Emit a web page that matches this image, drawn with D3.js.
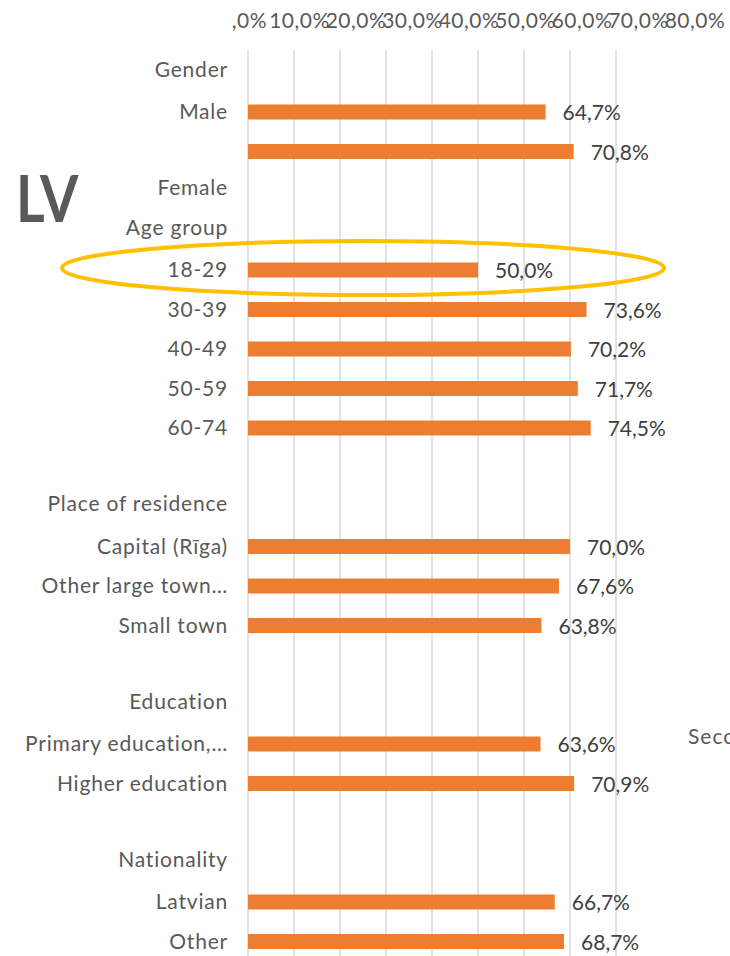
<!DOCTYPE html>
<html>
<head>
<meta charset="utf-8">
<script src="https://cdn.jsdelivr.net/npm/d3@7"></script>
<style>
  body { margin: 0; background: #fff; }
  svg { display: block; font-family: Lato, "Open Sans", sans-serif; }
</style>
</head>
<body>
<div id="chart"></div>
<script>
// rows of the chart, top to bottom (empty label = no category text, null = no bar)
const rowLabels = ["Gender", "Male", "", "Female", "Age group", "18-29", "30-39", "40-49", "50-59", "60-74", "",
  "Place of residence", "Capital (Rīga)", "Other large town…", "Small town", "",
  "Education", "Primary education,…", "Higher education", "",
  "Nationality", "Latvian", "Other"];
const rowValues = [null, 64.7, 70.8, null, null, 50.0, 73.6, 70.2, 71.7, 74.5, null,
  null, 70.0, 67.6, 63.8, null,
  null, 63.6, 70.9, null,
  null, 66.7, 68.7];
const tickValues = [0, 10, 20, 30, 40, 50, 60, 70, 80];
const highlightRow = 5; // 18-29

const width = 730, height = 956;
const locale = d3.formatLocale({decimal: ",", thousands: " ", grouping: [3], currency: ["", "€"]});
const fmt = v => locale.format(".1f")(v) + "%";

let svg = d3.select("#chart").append("svg")
    .attr("width", width)
    .attr("height", height);

let x = d3.scaleLinear().domain([0, 80]).range([248, 616]);
// the axis labels in the original sit on a wider spacing than the gridlines
let xLab = d3.scaleLinear().domain([0, 80]).range([243, 695]);
let y = d3.scalePoint().domain(d3.range(rowLabels.length)).range([72.5, 941.5]);

// clip for the tick labels (first label is cut on the left)
svg.append("clipPath").attr("id", "tickclip")
  .append("rect").attr("x", 232).attr("y", 0).attr("width", width).attr("height", 50);

// gridlines
svg.append("g").selectAll("line").data(tickValues).enter().append("line")
    .attr("x1", d => x(d)).attr("x2", d => x(d))
    .attr("y1", 50).attr("y2", height)
    .attr("stroke", "#d9d9d9")
    .attr("stroke-width", 1.5);

// top axis labels (they overlap, as in the original)
svg.append("g").attr("clip-path", "url(#tickclip)")
  .selectAll("text").data(tickValues).enter().append("text")
    .attr("x", d => xLab(d))
    .attr("y", 28)
    .attr("text-anchor", "middle")
    .style("font-size", "21px")
    .style("letter-spacing", "0.5px")
    .attr("fill", "#595959")
    .text(d => fmt(d));

// category labels
svg.append("g").selectAll("text").data(rowLabels).enter().append("text")
    .attr("x", 228)
    .attr("y", (d, i) => y(i) - (rowValues[i] === null ? 3 : 0))
    .attr("dy", "0.35em")
    .attr("text-anchor", "end")
    .style("font-size", "21px")
    .style("letter-spacing", "0.8px")
    .attr("fill", "#595959")
    .text(d => d);

const bars = rowValues.map((v, i) => ({i: i, v: v})).filter(d => d.v !== null);

svg.append("g").selectAll("rect").data(bars).enter().append("rect")
    .attr("x", x(0))
    .attr("y", d => y(d.i) - 7.5)
    .attr("width", d => x(d.v) - x(0))
    .attr("height", 15)
    .attr("fill", "#ed7d31");

svg.append("g").selectAll("text").data(bars).enter().append("text")
    .attr("x", d => x(d.v) + 17)
    .attr("y", d => y(d.i) + 1)
    .attr("dy", "0.35em")
    .style("font-size", "21px")
    .attr("fill", "#404040")
    .text(d => fmt(d.v));

// highlight ellipse around 18-29
svg.append("ellipse")
    .attr("cx", 363)
    .attr("cy", y(highlightRow) - 2)
    .attr("rx", 301)
    .attr("ry", 27)
    .attr("fill", "none")
    .attr("stroke", "#ffc000")
    .attr("stroke-width", 4);

// big country label
svg.append("text")
    .attr("transform", "translate(16, 222) scale(0.85, 1)")
    .style("font-size", "65px")
    .style("font-weight", "bold")
    .attr("fill", "#595959")
    .text("LV");

// label of a row that lies off the right edge, cut off as in the original
svg.append("text")
    .attr("x", 688)
    .attr("y", 737)
    .attr("dy", "0.35em")
    .style("font-size", "21px")
    .style("letter-spacing", "1px")
    .attr("fill", "#595959")
    .text("Secondary education");
</script>
</body>
</html>
